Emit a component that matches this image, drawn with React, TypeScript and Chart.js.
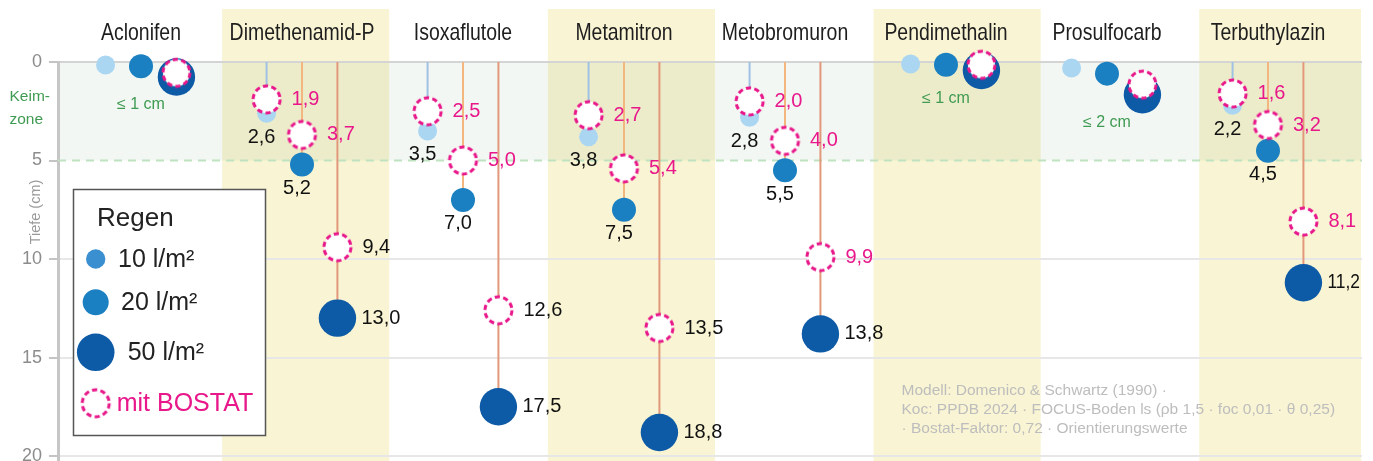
import React, { useEffect, useRef } from 'react';
import { Chart, registerables } from 'chart.js';

Chart.register(...registerables);

// ---------- data ----------
const categories = [
  'Aclonifen',
  'Dimethenamid-P',
  'Isoxaflutole',
  'Metamitron',
  'Metobromuron',
  'Pendimethalin',
  'Prosulfocarb',
  'Terbuthylazin',
];
// Eindringtiefe (cm) je Regenmenge
const depth10 = [0.15, 2.6, 3.5, 3.8, 2.8, 0.1, 0.3, 2.2];
const depth20 = [0.22, 5.2, 7.0, 7.5, 5.5, 0.14, 0.59, 4.5];
const depth50 = [0.76, 13.0, 17.5, 18.8, 13.8, 0.43, 1.66, 11.2];
// mit BOSTAT
const bostat10: (number | null)[] = [null, 1.9, 2.5, 2.7, 2.0, null, null, 1.6];
const bostat20: (number | null)[] = [null, 3.7, 5.0, 5.4, 4.0, null, null, 3.2];
const bostat50: (number | null)[] = [0.55, 9.4, 12.6, 13.5, 9.9, 0.14, 1.15, 8.1];
const bostat50LabelDark = [false, true, true, true, false, false, false, false];
const shallowNote = ['≤ 1 cm', '', '', '', '', '≤ 1 cm', '≤ 2 cm', ''];
const yTicks = [0, 5, 10, 15, 20];
const keimzoneDepth = 5;
const zoneLabel = ['Keim-', 'zone'];
const axisTitle = 'Tiefe (cm)';
const legendTitle = 'Regen';
const legendItems = ['10 l/m²', '20 l/m²', '50 l/m²', 'mit BOSTAT'];
const footnote = [
  'Modell: Domenico & Schwartz (1990) ·',
  'Koc: PPDB 2024 · FOCUS-Boden ls (ρb 1,5 · foc 0,01 · θ 0,25)',
  '· Bostat-Faktor: 0,72 · Orientierungswerte',
];

// ---------- styles / layout ----------
const FONT = '"Liberation Sans", Arial, sans-serif';
const PINK = '#e8178a';
const LIGHT = '#aad6f2';
const MID = '#1a80c1';
const DARK = '#0d5aa6';
const LEGEND10 = '#3a8fd0';
const LINE_COLORS = ['#9fc1e3', '#f4b67f', '#e2987a'];
const GREEN = '#3f9b52';
const BAND = '#f9f4d3';
const OFF = [-0.22, 0, 0.22];
const X_MIN = -83 / 161;
const X_MAX = 1221 / 161;
const BAND_STEP = 1.0115;
const BAND_SHIFT = 0.0115;
const BAND_HALF = 0.519;

const fmt = (v: number) => v.toFixed(1).replace('.', ',');
const labeled = (i: number) => bostat10[i] != null;

function makeDashed(r: number, lw: number) {
  const size = Math.ceil((r + lw) * 2) + 2;
  const c = document.createElement('canvas');
  c.width = size;
  c.height = size;
  const g = c.getContext('2d')!;
  g.beginPath();
  g.arc(size / 2, size / 2, r, 0, Math.PI * 2);
  g.fillStyle = '#ffffff';
  g.fill();
  g.setLineDash([5.2, 3.3]);
  g.lineWidth = lw;
  g.strokeStyle = PINK;
  g.stroke();
  return c;
}

export default function App() {
  const ref = useRef<HTMLCanvasElement>(null);

  useEffect(() => {
    document.body.style.margin = '0';
    const canvas = ref.current!;
    const dashed = makeDashed(13.5, 3);

    const lineData = (arr: number[], k: number) => {
      const d: any[] = [];
      categories.forEach((_, i) => {
        if (!labeled(i)) return;
        const xv = i + OFF[k];
        d.push({ x: xv, y: 0 }, { x: xv, y: arr[i] }, { x: xv, y: null });
      });
      return d;
    };
    const pts = (arr: (number | null)[], k: number) =>
      arr.map((v, i) => (v == null ? null : { x: i + OFF[k], y: v })).filter(Boolean);

    const datasets: any[] = [
      { data: lineData(depth10, 0), showLine: true, borderColor: LINE_COLORS[0], borderWidth: 2, pointRadius: 0, order: 10 },
      { data: lineData(depth20, 1), showLine: true, borderColor: LINE_COLORS[1], borderWidth: 2, pointRadius: 0, order: 9 },
      { data: lineData(depth50, 2), showLine: true, borderColor: LINE_COLORS[2], borderWidth: 2, pointRadius: 0, order: 8 },
      { data: pts(depth10, 0), pointRadius: 9.5, backgroundColor: LIGHT, borderWidth: 0, order: 5 },
      { data: pts(depth20, 1), pointRadius: 12, backgroundColor: MID, borderWidth: 0, order: 4 },
      { data: pts(depth50, 2), pointRadius: 18.7, backgroundColor: DARK, borderWidth: 0, order: 3 },
      { data: pts(bostat10, 0), pointStyle: dashed, order: 2 },
      { data: pts(bostat20, 1), pointStyle: dashed, order: 1 },
      { data: pts(bostat50, 2), pointStyle: dashed, order: 0 },
    ];
    datasets.forEach((d) => {
      d.clip = false;
      d.pointHoverRadius = d.pointRadius;
    });

    const decor = {
      id: 'decor',
      beforeDraw(chart: any) {
        const { ctx, chartArea: a, scales } = chart;
        const x = scales.x, y = scales.y;
        ctx.save();
        ctx.fillStyle = BAND;
        categories.forEach((_, i) => {
          if (i % 2 !== 1) return;
          const c = BAND_SHIFT + i * BAND_STEP;
          const l = x.getPixelForValue(c - BAND_HALF);
          const r = Math.min(x.getPixelForValue(c + BAND_HALF), a.right - 1);
          ctx.fillRect(l, 9, r - l, chart.height - 9);
        });
        const y0 = y.getPixelForValue(0);
        const y5 = y.getPixelForValue(keimzoneDepth);
        ctx.fillStyle = 'rgba(100,150,100,0.08)';
        ctx.fillRect(a.left, y0, a.right - a.left, y5 - y0);
        ctx.restore();
      },
      beforeDatasetsDraw(chart: any) {
        const { ctx, chartArea: a, scales } = chart;
        const y5 = scales.y.getPixelForValue(keimzoneDepth);
        ctx.save();
        ctx.setLineDash([8, 6]);
        ctx.strokeStyle = '#bfe2c0';
        ctx.lineWidth = 2;
        ctx.beginPath();
        ctx.moveTo(a.left, y5);
        ctx.lineTo(a.right, y5);
        ctx.stroke();
        ctx.restore();
      },
      afterDatasetsDraw(chart: any) {
        const { ctx, scales } = chart;
        const x = scales.x, y = scales.y;
        const maxW = (px: number) => chart.width - 13 - px;
        ctx.save();
        categories.forEach((_, i) => {
          if (!labeled(i)) {
            if (shallowNote[i]) {
              ctx.font = `16px ${FONT}`;
              ctx.fillStyle = GREEN;
              ctx.textAlign = 'center';
              ctx.textBaseline = 'middle';
              ctx.fillText(shallowNote[i], x.getPixelForValue(i), y.getPixelForValue(depth50[i]) + 28);
            }
            return;
          }
          ctx.font = `20px ${FONT}`;
          ctx.textBaseline = 'middle';
          // 10 / 20 below the point
          [depth10, depth20].forEach((arr, k) => {
            ctx.textAlign = 'center';
            ctx.fillStyle = '#111';
            ctx.fillText(fmt(arr[i]), x.getPixelForValue(i + OFF[k]) - 5, y.getPixelForValue(arr[i]) + 24);
          });
          // 50 to the right
          ctx.textAlign = 'left';
          ctx.fillStyle = '#111';
          const x50 = x.getPixelForValue(i + OFF[2]) + 24;
          ctx.fillText(fmt(depth50[i]), x50, y.getPixelForValue(depth50[i]), maxW(x50));
          // BOSTAT labels
          [bostat10, bostat20, bostat50].forEach((arr, k) => {
            const v = arr[i];
            if (v == null) return;
            ctx.fillStyle = k === 2 && bostat50LabelDark[i] ? '#111' : PINK;
            const px = x.getPixelForValue(i + OFF[k]) + 25;
            ctx.fillText(fmt(v), px, y.getPixelForValue(v), maxW(px));
          });
        });
        ctx.restore();
      },
      afterDraw(chart: any) {
        const { ctx, scales } = chart;
        const x = scales.x;
        ctx.save();
        // category titles
        ctx.font = `24px ${FONT}`;
        ctx.fillStyle = '#1e1e1e';
        ctx.textAlign = 'center';
        ctx.textBaseline = 'middle';
        categories.forEach((c, i) => {
          ctx.save();
          ctx.translate(x.getPixelForValue(i), 33);
          ctx.scale(0.81, 1);
          ctx.fillText(c, 0, 0);
          ctx.restore();
        });
        // Keimzone label
        ctx.font = `15.5px ${FONT}`;
        ctx.fillStyle = GREEN;
        ctx.textAlign = 'left';
        ctx.fillText(zoneLabel[0], 9.5, 97);
        ctx.fillText(zoneLabel[1], 9.5, 120);
        // axis title
        ctx.save();
        ctx.translate(36, 212);
        ctx.rotate(-Math.PI / 2);
        ctx.font = `14.5px ${FONT}`;
        ctx.fillStyle = '#9a9a9a';
        ctx.textAlign = 'center';
        ctx.fillText(axisTitle, 0, 0);
        ctx.restore();
        // footnote
        ctx.font = `15.5px ${FONT}`;
        ctx.fillStyle = '#bdbdbd';
        ctx.textAlign = 'left';
        footnote.forEach((t, k) => ctx.fillText(t, 901.5, 390.5 + k * 19));
        // legend
        ctx.fillStyle = '#ffffff';
        ctx.fillRect(73.5, 189.5, 192, 246);
        ctx.strokeStyle = '#555';
        ctx.lineWidth = 1.5;
        ctx.strokeRect(73.5, 189.5, 192, 246);
        ctx.fillStyle = '#222';
        ctx.font = `26px ${FONT}`;
        ctx.textBaseline = 'alphabetic';
        ctx.fillText(legendTitle, 97, 226);
        const lx = 95.7;
        const rows = [
          { y: 259, r: 9.7, c: LEGEND10, tx: 118 },
          { y: 302.3, r: 13, c: MID, tx: 121 },
          { y: 352.3, r: 18.8, c: DARK, tx: 127.7 },
        ];
        ctx.font = `25px ${FONT}`;
        ctx.textBaseline = 'middle';
        rows.forEach((row, k) => {
          ctx.beginPath();
          ctx.arc(lx, row.y, row.r, 0, Math.PI * 2);
          ctx.fillStyle = row.c;
          ctx.fill();
          ctx.fillStyle = '#222';
          ctx.fillText(legendItems[k], row.tx, row.y + 1);
        });
        ctx.drawImage(dashed, lx - dashed.width / 2, 403.3 - dashed.height / 2);
        ctx.fillStyle = PINK;
        ctx.fillText(legendItems[3], 116.7, 404);
        ctx.restore();
      },
    };

    const chart = new Chart(canvas, {
      type: 'scatter',
      data: { datasets },
      options: {
        responsive: false,
        animation: false,
        events: [],
        layout: { autoPadding: false, padding: { top: 62, left: 0, right: 11, bottom: 0 } },
        plugins: { legend: { display: false }, tooltip: { enabled: false } },
        font: { family: FONT },
        scales: {
          x: { type: 'linear', min: X_MIN, max: X_MAX, display: false },
          y: {
            type: 'linear',
            reverse: true,
            min: 0,
            max: 20.25,
            afterBuildTicks: (s: any) => {
              s.ticks = yTicks.map((v) => ({ value: v }));
            },
            afterFit: (s: any) => {
              s.width = 58;
              s.paddingTop = 0;
              s.paddingBottom = 0;
            },
            grid: {
              color: (c: any) =>
                c.tick && c.tick.value === 0
                  ? '#d4d4d4'
                  : c.tick && c.tick.value === keimzoneDepth
                  ? 'rgba(0,0,0,0)'
                  : '#e7e7e7',
              lineWidth: 2,
              tickLength: 9,
              tickColor: '#c4c4c4',
              tickWidth: 2,
            },
            border: { display: true, color: '#c6c6c6', width: 3 },
            ticks: { color: '#8c8c8c', font: { size: 18, family: FONT }, padding: 7 },
          },
        },
      } as any,
      plugins: [decor],
    });
    return () => chart.destroy();
  }, []);

  return (
    <div style={{ width: 1373, height: 461 }}>
      <canvas ref={ref} width={1373} height={461} style={{ display: 'block' }} />
    </div>
  );
}
